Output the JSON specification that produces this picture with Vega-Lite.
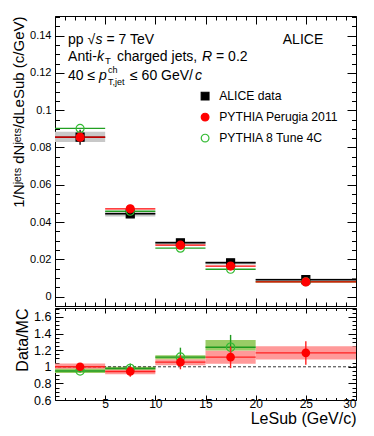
{
  "$schema": "https://vega.github.io/schema/vega-lite/v6.json",
  "padding": {"left": 11, "top": 15, "right": 5, "bottom": 5},
  "config": {
    "font": "Liberation Sans",
    "view": {"stroke": "black", "strokeWidth": 1},
    "axis": {"domain": false, "grid": false, "tickColor": "black", "labelColor": "black", "titleColor": "black", "titleFontWeight": "normal", "labelFont": "Liberation Sans", "titleFont": "Liberation Sans"}
  },
  "datasets": {
    "top": [
      {"series": "ALICE data", "lo": 0, "hi": 5, "mid": 2.5, "value": 0.0855, "statlo": 0.0815, "stathi": 0.0895, "syslo": 0.0829, "syshi": 0.0884},
      {"series": "ALICE data", "lo": 5, "hi": 10, "mid": 7.5, "value": 0.0444, "statlo": 0.0424, "stathi": 0.0464, "syslo": 0.0430, "syshi": 0.0458},
      {"series": "ALICE data", "lo": 10, "hi": 15, "mid": 12.5, "value": 0.0289, "statlo": 0.0276, "stathi": 0.0302, "syslo": 0.0279, "syshi": 0.0299},
      {"series": "ALICE data", "lo": 15, "hi": 20, "mid": 17.5, "value": 0.0182, "statlo": 0.0172, "stathi": 0.0192, "syslo": 0.0173, "syshi": 0.0191},
      {"series": "ALICE data", "lo": 20, "hi": 30, "mid": 25, "value": 0.0091, "statlo": 0.0085, "stathi": 0.0097, "syslo": 0.0085, "syshi": 0.0097},
      {"series": "PYTHIA 8 Tune 4C", "lo": 0, "hi": 5, "mid": 2.5, "value": 0.0902},
      {"series": "PYTHIA 8 Tune 4C", "lo": 5, "hi": 10, "mid": 7.5, "value": 0.0458},
      {"series": "PYTHIA 8 Tune 4C", "lo": 10, "hi": 15, "mid": 12.5, "value": 0.0260},
      {"series": "PYTHIA 8 Tune 4C", "lo": 15, "hi": 20, "mid": 17.5, "value": 0.0147},
      {"series": "PYTHIA 8 Tune 4C", "lo": 20, "hi": 30, "mid": 25, "value": 0.0080},
      {"series": "PYTHIA Perugia 2011", "lo": 0, "hi": 5, "mid": 2.5, "value": 0.0855},
      {"series": "PYTHIA Perugia 2011", "lo": 5, "hi": 10, "mid": 7.5, "value": 0.0471},
      {"series": "PYTHIA Perugia 2011", "lo": 10, "hi": 15, "mid": 12.5, "value": 0.0276},
      {"series": "PYTHIA Perugia 2011", "lo": 15, "hi": 20, "mid": 17.5, "value": 0.0164},
      {"series": "PYTHIA Perugia 2011", "lo": 20, "hi": 30, "mid": 25, "value": 0.0079}
    ],
    "ratio": [
      {"series": "PYTHIA Perugia 2011", "lo": 0, "hi": 5, "mid": 2.5, "value": 1.0, "statlo": 0.98, "stathi": 1.02, "syslo": 0.95, "syshi": 1.04},
      {"series": "PYTHIA Perugia 2011", "lo": 5, "hi": 10, "mid": 7.5, "value": 0.944, "statlo": 0.88, "stathi": 1.0, "syslo": 0.91, "syshi": 0.985},
      {"series": "PYTHIA Perugia 2011", "lo": 10, "hi": 15, "mid": 12.5, "value": 1.056, "statlo": 0.97, "stathi": 1.14, "syslo": 1.02, "syshi": 1.09},
      {"series": "PYTHIA Perugia 2011", "lo": 15, "hi": 20, "mid": 17.5, "value": 1.116, "statlo": 0.984, "stathi": 1.244, "syslo": 1.036, "syshi": 1.196},
      {"series": "PYTHIA Perugia 2011", "lo": 20, "hi": 30, "mid": 25, "value": 1.168, "statlo": 1.024, "stathi": 1.308, "syslo": 1.088, "syshi": 1.248},
      {"series": "PYTHIA 8 Tune 4C", "lo": 0, "hi": 5, "mid": 2.5, "value": 0.95, "statlo": 0.93, "stathi": 0.97, "syslo": 0.925, "syshi": 0.975},
      {"series": "PYTHIA 8 Tune 4C", "lo": 5, "hi": 10, "mid": 7.5, "value": 0.98, "statlo": 0.93, "stathi": 1.04, "syslo": 0.965, "syshi": 1.0},
      {"series": "PYTHIA 8 Tune 4C", "lo": 10, "hi": 15, "mid": 12.5, "value": 1.116, "statlo": 1.0, "stathi": 1.23, "syslo": 1.09, "syshi": 1.14},
      {"series": "PYTHIA 8 Tune 4C", "lo": 15, "hi": 20, "mid": 17.5, "value": 1.236, "statlo": 1.156, "stathi": 1.384, "syslo": 1.196, "syshi": 1.324}
    ]
  },
  "spacing": 0,
  "resolve": {"legend": {"shape": "independent", "fill": "independent", "stroke": "independent"}},
  "vconcat": [
    {
      "width": 301,
      "height": 290,
      "data": {"name": "top"},
      "resolve": {"axis": {"x": "independent", "y": "independent"}},
      "layer": [
        {
          "transform": [{"filter": "datum.series === 'ALICE data'"}],
          "mark": {"type": "rect", "color": "#c8c8c8"},
          "encoding": {
            "x": {"field": "lo", "type": "quantitative", "scale": {"domain": [0, 30], "nice": false, "zero": false},
              "axis": {"orient": "bottom", "values": [0,1,2,3,4,5,6,7,8,9,10,11,12,13,14,15,16,17,18,19,20,21,22,23,24,25,26,27,28,29,30], "labels": false, "title": null,
                "tickSize": {"condition": {"test": "datum.value % 5 === 0", "value": -8}, "value": -4}}},
            "x2": {"field": "hi"},
            "y": {"field": "syslo", "type": "quantitative", "scale": {"domain": [-0.005, 0.1505], "nice": false, "zero": false},
              "axis": {"orient": "left", "values": [-0.005,0,0.005,0.01,0.015,0.02,0.025,0.03,0.035,0.04,0.045,0.05,0.055,0.06,0.065,0.07,0.075,0.08,0.085,0.09,0.095,0.1,0.105,0.11,0.115,0.12,0.125,0.13,0.135,0.14,0.145,0.15],
                "labelExpr": "abs(datum.value*50 - round(datum.value*50)) < 1e-6 ? format(datum.value, '~g') : ''",
                "labelFontSize": 11, "labelPadding": 13,
                "tickSize": {"condition": {"test": "abs(datum.value*50 - round(datum.value*50)) < 1e-6", "value": -9}, "value": -4.5},
                "title": "1/Nʲᵉᵗˢ dNʲᵉᵗˢ/dLeSub (c/GeV)", "titleAnchor": "end", "titleFontSize": 15, "titlePadding": 3}},
            "y2": {"field": "syshi"}
          }
        },
        {
          "transform": [{"filter": "datum.series === 'ALICE data'"}],
          "mark": {"type": "rule", "color": "black", "strokeWidth": 1.5},
          "encoding": {
            "x": {"field": "lo", "type": "quantitative",
              "axis": {"orient": "top", "values": [0,1,2,3,4,5,6,7,8,9,10,11,12,13,14,15,16,17,18,19,20,21,22,23,24,25,26,27,28,29,30], "labels": false, "title": null,
                "tickSize": {"condition": {"test": "datum.value % 5 === 0", "value": -8}, "value": -4}}},
            "x2": {"field": "hi"},
            "y": {"field": "value", "type": "quantitative",
              "axis": {"orient": "right", "values": [-0.005,0,0.005,0.01,0.015,0.02,0.025,0.03,0.035,0.04,0.045,0.05,0.055,0.06,0.065,0.07,0.075,0.08,0.085,0.09,0.095,0.1,0.105,0.11,0.115,0.12,0.125,0.13,0.135,0.14,0.145,0.15],
                "labels": false, "title": null,
                "tickSize": {"condition": {"test": "abs(datum.value*50 - round(datum.value*50)) < 1e-6", "value": -9}, "value": -4.5}}}
          }
        },
        {
          "transform": [{"filter": "datum.series === 'PYTHIA 8 Tune 4C'"}],
          "mark": {"type": "rule", "color": "#22a022", "strokeWidth": 1.3},
          "encoding": {
            "x": {"field": "lo", "type": "quantitative", "axis": null},
            "x2": {"field": "hi"},
            "y": {"field": "value", "type": "quantitative", "axis": null}
          }
        },
        {
          "transform": [{"filter": "datum.series === 'PYTHIA Perugia 2011'"}],
          "mark": {"type": "rule", "color": "#ff0000", "strokeWidth": 1.3},
          "encoding": {
            "x": {"field": "lo", "type": "quantitative", "axis": null},
            "x2": {"field": "hi"},
            "y": {"field": "value", "type": "quantitative", "axis": null}
          }
        },
        {
          "transform": [{"filter": "datum.series === 'ALICE data'"}],
          "mark": {"type": "rule", "color": "black", "strokeWidth": 1.3},
          "encoding": {
            "x": {"field": "mid", "type": "quantitative", "axis": null},
            "y": {"field": "statlo", "type": "quantitative", "axis": null},
            "y2": {"field": "stathi"}
          }
        },
        {
          "mark": {"type": "point", "size": 64, "strokeWidth": 1.2, "opacity": 1},
          "encoding": {
            "x": {"field": "mid", "type": "quantitative", "axis": null},
            "y": {"field": "value", "type": "quantitative", "axis": null},
            "shape": {"field": "series", "type": "nominal",
              "scale": {"domain": ["ALICE data", "PYTHIA Perugia 2011", "PYTHIA 8 Tune 4C"], "range": ["square", "circle", "circle"]},
              "legend": {"title": null, "orient": "none", "legendX": 144, "legendY": 74, "labelFontSize": 12.2, "labelFont": "Liberation Sans", "labelColor": "black", "symbolSize": 60, "rowPadding": 7, "labelOffset": 8, "symbolStrokeWidth": 1.2}},
            "fill": {"field": "series", "type": "nominal",
              "scale": {"domain": ["ALICE data", "PYTHIA Perugia 2011", "PYTHIA 8 Tune 4C"], "range": ["black", "#ff0000", "transparent"]},
              "legend": {"title": null, "orient": "none", "legendX": 144, "legendY": 74, "labelFontSize": 12.2, "labelFont": "Liberation Sans", "labelColor": "black", "symbolSize": 60, "rowPadding": 7, "labelOffset": 8, "symbolStrokeWidth": 1.2}},
            "stroke": {"field": "series", "type": "nominal",
              "scale": {"domain": ["ALICE data", "PYTHIA Perugia 2011", "PYTHIA 8 Tune 4C"], "range": ["black", "#ff0000", "#33bb33"]},
              "legend": {"title": null, "orient": "none", "legendX": 144, "legendY": 74, "labelFontSize": 12.2, "labelFont": "Liberation Sans", "labelColor": "black", "symbolSize": 60, "rowPadding": 7, "labelOffset": 8, "symbolStrokeWidth": 1.2}}
          }
        },
        {
          "data": {"values": [{}]},
          "mark": {"type": "text", "text": "pp √", "align": "left", "baseline": "middle", "fontSize": 14, "color": "black"},
          "encoding": {"x": {"datum": 1.3, "type": "quantitative", "axis": null}, "y": {"datum": 0.1378, "type": "quantitative", "axis": null}}
        },
        {
          "data": {"values": [{}]},
          "mark": {"type": "text", "text": "s", "align": "left", "baseline": "middle", "fontSize": 14, "fontStyle": "italic", "dx": 27.5, "color": "black"},
          "encoding": {"x": {"datum": 1.3, "type": "quantitative", "axis": null}, "y": {"datum": 0.1378, "type": "quantitative", "axis": null}}
        },
        {
          "data": {"values": [{}]},
          "mark": {"type": "text", "text": "= 7 TeV", "align": "left", "baseline": "middle", "fontSize": 14, "dx": 38.5, "color": "black"},
          "encoding": {"x": {"datum": 1.3, "type": "quantitative", "axis": null}, "y": {"datum": 0.1378, "type": "quantitative", "axis": null}}
        },
        {
          "data": {"values": [{}]},
          "mark": {"type": "text", "text": "ALICE", "align": "left", "baseline": "middle", "fontSize": 14, "color": "black"},
          "encoding": {"x": {"datum": 22.7, "type": "quantitative", "axis": null}, "y": {"datum": 0.1378, "type": "quantitative", "axis": null}}
        },
        {
          "data": {"values": [{}]},
          "mark": {"type": "text", "text": "Anti-", "align": "left", "baseline": "middle", "fontSize": 14, "color": "black"},
          "encoding": {"x": {"datum": 1.3, "type": "quantitative", "axis": null}, "y": {"datum": 0.1283, "type": "quantitative", "axis": null}}
        },
        {
          "data": {"values": [{}]},
          "mark": {"type": "text", "text": "k", "align": "left", "baseline": "middle", "fontSize": 14, "fontStyle": "italic", "dx": 29, "color": "black"},
          "encoding": {"x": {"datum": 1.3, "type": "quantitative", "axis": null}, "y": {"datum": 0.1283, "type": "quantitative", "axis": null}}
        },
        {
          "data": {"values": [{}]},
          "mark": {"type": "text", "text": "T", "align": "left", "baseline": "middle", "fontSize": 9.5, "dx": 37, "dy": 4, "color": "black"},
          "encoding": {"x": {"datum": 1.3, "type": "quantitative", "axis": null}, "y": {"datum": 0.1283, "type": "quantitative", "axis": null}}
        },
        {
          "data": {"values": [{}]},
          "mark": {"type": "text", "text": "charged jets,", "align": "left", "baseline": "middle", "fontSize": 14, "dx": 49, "color": "black"},
          "encoding": {"x": {"datum": 1.3, "type": "quantitative", "axis": null}, "y": {"datum": 0.1283, "type": "quantitative", "axis": null}}
        },
        {
          "data": {"values": [{}]},
          "mark": {"type": "text", "text": "R", "align": "left", "baseline": "middle", "fontSize": 14, "fontStyle": "italic", "dx": 134, "color": "black"},
          "encoding": {"x": {"datum": 1.3, "type": "quantitative", "axis": null}, "y": {"datum": 0.1283, "type": "quantitative", "axis": null}}
        },
        {
          "data": {"values": [{}]},
          "mark": {"type": "text", "text": "= 0.2", "align": "left", "baseline": "middle", "fontSize": 14, "dx": 148, "color": "black"},
          "encoding": {"x": {"datum": 1.3, "type": "quantitative", "axis": null}, "y": {"datum": 0.1283, "type": "quantitative", "axis": null}}
        },
        {
          "data": {"values": [{}]},
          "mark": {"type": "text", "text": "40 ≤", "align": "left", "baseline": "middle", "fontSize": 14, "color": "black"},
          "encoding": {"x": {"datum": 1.3, "type": "quantitative", "axis": null}, "y": {"datum": 0.1185, "type": "quantitative", "axis": null}}
        },
        {
          "data": {"values": [{}]},
          "mark": {"type": "text", "text": "p", "align": "left", "baseline": "middle", "fontSize": 14, "fontStyle": "italic", "dx": 31, "color": "black"},
          "encoding": {"x": {"datum": 1.3, "type": "quantitative", "axis": null}, "y": {"datum": 0.1185, "type": "quantitative", "axis": null}}
        },
        {
          "data": {"values": [{}]},
          "mark": {"type": "text", "text": "ch", "align": "left", "baseline": "middle", "fontSize": 9, "dx": 40, "dy": -6, "color": "black"},
          "encoding": {"x": {"datum": 1.3, "type": "quantitative", "axis": null}, "y": {"datum": 0.1185, "type": "quantitative", "axis": null}}
        },
        {
          "data": {"values": [{}]},
          "mark": {"type": "text", "text": "T,jet", "align": "left", "baseline": "middle", "fontSize": 9, "dx": 40, "dy": 6, "color": "black"},
          "encoding": {"x": {"datum": 1.3, "type": "quantitative", "axis": null}, "y": {"datum": 0.1185, "type": "quantitative", "axis": null}}
        },
        {
          "data": {"values": [{}]},
          "mark": {"type": "text", "text": "≤ 60 GeV/", "align": "left", "baseline": "middle", "fontSize": 14, "dx": 62, "color": "black"},
          "encoding": {"x": {"datum": 1.3, "type": "quantitative", "axis": null}, "y": {"datum": 0.1185, "type": "quantitative", "axis": null}}
        },
        {
          "data": {"values": [{}]},
          "mark": {"type": "text", "text": "c", "align": "left", "baseline": "middle", "fontSize": 14, "fontStyle": "italic", "dx": 127, "color": "black"},
          "encoding": {"x": {"datum": 1.3, "type": "quantitative", "axis": null}, "y": {"datum": 0.1185, "type": "quantitative", "axis": null}}
        }
      ]
    },
    {
      "width": 301,
      "height": 92,
      "data": {"name": "ratio"},
      "resolve": {"axis": {"x": "independent", "y": "independent"}},
      "layer": [
        {
          "transform": [{"filter": "datum.series === 'PYTHIA Perugia 2011'"}],
          "mark": {"type": "rect", "color": "#ff9999"},
          "encoding": {
            "x": {"field": "lo", "type": "quantitative", "scale": {"domain": [0, 30], "nice": false, "zero": false},
              "axis": {"orient": "bottom", "values": [0,1,2,3,4,5,6,7,8,9,10,11,12,13,14,15,16,17,18,19,20,21,22,23,24,25,26,27,28,29,30],
                "labelExpr": "datum.value % 5 === 0 && datum.value > 0 ? datum.value : ''",
                "labelFontSize": 12, "labelPadding": 3,
                "tickSize": {"condition": {"test": "datum.value % 5 === 0", "value": -5}, "value": -2.5},
                "title": "LeSub (GeV/c)", "titleAnchor": "end", "titleFontSize": 16, "titlePadding": 1}},
            "x2": {"field": "hi"},
            "y": {"field": "syslo", "type": "quantitative", "scale": {"domain": [0.6, 1.708], "nice": false, "zero": false},
              "axis": {"orient": "left", "values": [0.6,0.65,0.7,0.75,0.8,0.85,0.9,0.95,1.0,1.05,1.1,1.15,1.2,1.25,1.3,1.35,1.4,1.45,1.5,1.55,1.6,1.65,1.7],
                "labelExpr": "abs(datum.value*5 - round(datum.value*5)) < 1e-6 ? format(datum.value, '~g') : ''",
                "labelFontSize": 12.5, "labelPadding": 12,
                "tickSize": {"condition": {"test": "abs(datum.value*5 - round(datum.value*5)) < 1e-6", "value": -8}, "value": -4},
                "title": "Data/MC", "titleAnchor": "end", "titleFontSize": 16, "titlePadding": 3}},
            "y2": {"field": "syshi"}
          }
        },
        {
          "transform": [{"filter": "datum.series === 'PYTHIA 8 Tune 4C'"}],
          "mark": {"type": "rect", "color": "#99cc66"},
          "encoding": {
            "x": {"field": "lo", "type": "quantitative",
              "axis": {"orient": "top", "values": [0,1,2,3,4,5,6,7,8,9,10,11,12,13,14,15,16,17,18,19,20,21,22,23,24,25,26,27,28,29,30], "labels": false, "title": null,
                "tickSize": {"condition": {"test": "datum.value % 5 === 0", "value": -5}, "value": -2.5}}},
            "x2": {"field": "hi"},
            "y": {"field": "syslo", "type": "quantitative",
              "axis": {"orient": "right", "values": [0.6,0.65,0.7,0.75,0.8,0.85,0.9,0.95,1.0,1.05,1.1,1.15,1.2,1.25,1.3,1.35,1.4,1.45,1.5,1.55,1.6,1.65,1.7],
                "labels": false, "title": null,
                "tickSize": {"condition": {"test": "abs(datum.value*5 - round(datum.value*5)) < 1e-6", "value": -8}, "value": -4}}},
            "y2": {"field": "syshi"}
          }
        },
        {
          "data": {"values": [{}]},
          "mark": {"type": "rule", "color": "black", "strokeWidth": 0.8, "strokeDash": [3, 2]},
          "encoding": {"y": {"datum": 1, "type": "quantitative", "axis": null}}
        },
        {
          "transform": [{"filter": "datum.series === 'PYTHIA 8 Tune 4C'"}],
          "mark": {"type": "rule", "color": "#1f9a1f", "strokeWidth": 1.4},
          "encoding": {
            "x": {"field": "lo", "type": "quantitative", "axis": null},
            "x2": {"field": "hi"},
            "y": {"field": "value", "type": "quantitative", "axis": null}
          }
        },
        {
          "transform": [{"filter": "datum.series === 'PYTHIA 8 Tune 4C'"}],
          "mark": {"type": "rule", "color": "#1f9a1f", "strokeWidth": 1.4},
          "encoding": {
            "x": {"field": "mid", "type": "quantitative", "axis": null},
            "y": {"field": "statlo", "type": "quantitative", "axis": null},
            "y2": {"field": "stathi"}
          }
        },
        {
          "transform": [{"filter": "datum.series === 'PYTHIA 8 Tune 4C'"}],
          "mark": {"type": "point", "shape": "circle", "size": 70, "filled": false, "color": "#33bb33", "strokeWidth": 1.2, "opacity": 1},
          "encoding": {
            "x": {"field": "mid", "type": "quantitative", "axis": null},
            "y": {"field": "value", "type": "quantitative", "axis": null}
          }
        },
        {
          "transform": [{"filter": "datum.series === 'PYTHIA Perugia 2011'"}],
          "mark": {"type": "rule", "color": "#ff2020", "strokeWidth": 1.4},
          "encoding": {
            "x": {"field": "lo", "type": "quantitative", "axis": null},
            "x2": {"field": "hi"},
            "y": {"field": "value", "type": "quantitative", "axis": null}
          }
        },
        {
          "transform": [{"filter": "datum.series === 'PYTHIA Perugia 2011'"}],
          "mark": {"type": "rule", "color": "#ff2020", "strokeWidth": 1.4},
          "encoding": {
            "x": {"field": "mid", "type": "quantitative", "axis": null},
            "y": {"field": "statlo", "type": "quantitative", "axis": null},
            "y2": {"field": "stathi"}
          }
        },
        {
          "transform": [{"filter": "datum.series === 'PYTHIA Perugia 2011'"}],
          "mark": {"type": "point", "shape": "circle", "size": 75, "filled": true, "color": "#ff0000", "opacity": 1},
          "encoding": {
            "x": {"field": "mid", "type": "quantitative", "axis": null},
            "y": {"field": "value", "type": "quantitative", "axis": null}
          }
        }
      ]
    }
  ]
}
